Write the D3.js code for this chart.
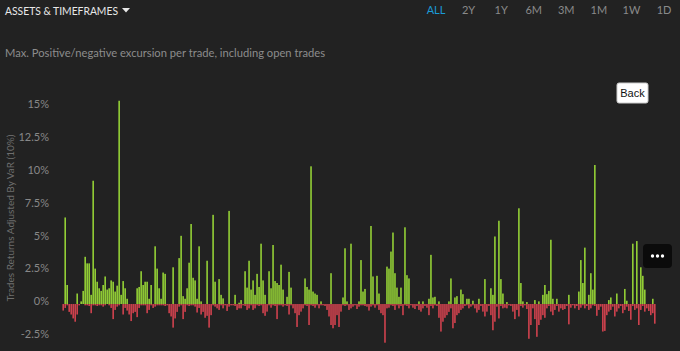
<!DOCTYPE html>
<html>
<head>
<meta charset="utf-8">
<script src="https://cdn.jsdelivr.net/npm/d3@7"></script>
<style>
  html, body { margin: 0; padding: 0; background: #222222; }
  svg { display: block; font-family: Lato, "Open Sans", sans-serif; }
</style>
</head>
<body>
<div id="chart"></div>
<script>
// max positive excursion per trade (%)
const pos = [
  0, 6.6, 1.45, 0, 0, 0, 0, 0.8, 0, 0.2,
  1.0, 3.6, 3.1, 3.1, 0.7, 9.4, 2.7, 1.7, 1.2, 1.0,
  1.45, 2.1, 1.1, 1.2, 1.8, 1.7, 0.95, 1.4, 15.5, 0.7,
  1.75, 1.2, 0.4, 0, 0, 0, 0, 1.2, 1.3, 2.5,
  1.45, 1.7, 1.7, 0.4, 1.45, 0, 4.4, 2.7, 1.2, 0.4,
  2.4, 2.3, 0, 0, 0, 2.8, 0, 0, 3.5, 5.2,
  0.6, 0.4, 1.2, 3.15, 6.1, 2.0, 1.8, 0.4, 4.4, 0.2,
  0, 0, 3.3, 0, 0, 6.8, 1.7, 0, 1.9, 0.7,
  0.43, 0, 0, 7.1, 0, 0, 0.7, 0, 0.1, 0.3,
  0, 2.5, 1.25, 3.3, 1.1, 1.8, 0.7, 2.3, 1.3, 4.6,
  1.8, 0.7, 0, 2.5, 1.2, 4.5, 1.75, 1.6, 1.45, 3.0,
  1.1, 0, 0.55, 2.45, 1.25, 0, 0, 0, 0, 0,
  0, 1.95, 1.3, 1.1, 10.5, 0.95, 0.8, 0.7, 0, 0.2,
  0, 0, 0, 0, 2.35, 0, 0, 0, 0, 0,
  0.5, 4.25, 0.2, 0, 4.6, 0, 0, 0, 0.2, 3.35,
  0.95, 1.15, 0, 0, 5.95, 2.1, 0, 2.15, 0.8, 0,
  0, 0, 2.85, 2.7, 4.0, 5.45, 2.35, 1.25, 0.55, 1.25,
  0, 5.85, 2.2, 1.95, 0, 0, 0, 0, 0.2, 0,
  0.2, 0, 0, 0.4, 3.75, 0.5, 0.55, 0, 0.2, 0,
  0, 0, 0, 0.2, 1.95, 0, 0.5, 0.6, 0, 1.1,
  0.75, 0, 0.4, 0.4, 0, 0.25, 0, 0, 0.4, 0,
  0, 1.9, 0, 0, 1.2, 0.7, 5.15, 0, 6.35, 1.9,
  0.8, 0, 0.15, 0, 0, 0, 0, 0, 7.3, 1.6,
  0.2, 0, 0.15, 0, 0, 0, 0.3, 0, 0.2, 0,
  0.7, 1.45, 0.75, 1.0, 4.9, 0.4, 0, 0.4, 0, 0,
  0, 0, 0, 0.7, 0, 0, 0, 0, 0.95, 3.35,
  1.6, 4.3, 0, 0.7, 2.35, 1.1, 10.6, 0, 0, 0,
  0, 0, 0, 0.3, 0.5, 0, 0, 0.8, 0, 0,
  0, 1.15, 0.25, 0, 0, 4.6, 0, 4.8, 0, 2.8,
  2.15, 1.1, 0, 0, 0, 0.4, 0
];

// max negative excursion per trade (%)
const neg = [
  -0.5, -0.3, -0.1, -0.6, -0.8, -1.1, -1.35, -0.8, -0.1, 0,
  0, -0.1, -0.1, -0.15, -0.7, -0.1, -0.1, -0.15, -0.1, -0.1,
  -0.2, -0.1, 0, -0.1, -0.3, -1.15, -0.45, -0.2, -0.1, 0,
  -0.8, -0.3, -0.5, -0.8, -1.3, -0.7, -0.6, -1.0, -0.3, -0.1,
  -0.1, -0.1, -0.7, -0.45, -0.1, -0.3, -0.2, -0.1, -0.1, -0.1,
  -0.1, -0.15, -0.1, -0.7, -0.95, -1.8, -1.1, -0.6, -0.2, -0.1,
  -1.15, -0.6, -0.1, -0.15, -0.1, -0.1, -0.2, -0.65, -0.3, -0.8,
  -0.6, -1.05, -0.9, -1.8, -0.85, -0.1, -0.2, -0.33, -0.45, -0.1,
  -0.33, -0.1, -0.53, -0.2, -0.1, -0.1, -0.15, -0.45, -0.33, -0.33,
  -0.1, -0.15, -0.45, -0.33, -0.1, -0.45, -0.33, -0.1, -0.15, -0.1,
  -0.7, -0.9, -0.58, -0.1, -0.28, -0.1, -0.15, -1.15, -0.1, -0.1,
  -0.2, -0.1, -0.15, -0.8, -0.1, -0.33, -0.7, -1.75, -0.85, -0.58,
  -0.33, -0.1, -0.15, -1.6, -0.1, -0.15, -0.28, -0.1, -0.33, -0.1,
  -0.1, -0.15, -0.45, -0.95, -1.6, -1.85, -1.6, -0.85, -1.75, -0.58,
  -0.1, -0.15, -0.1, -0.45, -0.33, -0.2, -0.1, -0.38, -0.2, -0.1,
  -0.1, -0.15, -0.2, -0.5, -0.2, -0.1, -0.28, -0.1, -0.45, -0.7,
  -0.85, -2.95, -0.33, -0.28, -0.1, -0.15, -0.45, -0.1, -0.33, -0.15,
  -0.85, -0.1, -0.15, -0.33, -0.1, -0.28, -0.38, -0.15, -0.45, -0.58,
  -0.33, -0.15, -0.28, -0.85, -0.15, -0.33, -0.1, -0.15, -1.05, -2.1,
  -1.35, -1.05, -0.85, -0.6, -0.33, -1.85, -1.45, -0.85, -0.7, -0.45,
  -0.33, -0.15, -0.1, -0.33, -0.2, -0.1, -0.33, -0.65, -0.45, -0.15,
  -0.58, -0.95, -0.58, -0.15, -0.85, -2.0, -1.35, -0.2, -1.1, -0.15,
  -0.33, -0.28, -0.33, -0.1, -0.15, -0.58, -1.15, -0.45, -0.95, -0.15,
  -0.28, -0.1, -0.38, -2.65, -1.6, -0.33, -1.15, -2.5, -1.6, -1.2,
  -0.85, -1.05, -0.33, -0.15, -0.58, -0.85, -0.45, -0.15, -0.58, -0.33,
  -0.45, -0.38, -0.15, -1.55, -0.28, -0.1, -0.33, -0.15, -0.45, -0.28,
  -0.1, -0.33, -0.15, -0.45, -0.33, -0.1, -0.15, -0.9, -0.45, -0.2,
  -2.1, -2.05, -0.85, -0.58, -0.45, -0.2, -0.95, -0.58, -0.33, -0.15,
  -0.7, -0.45, -0.2, -0.53, -1.2, -0.15, -0.45, -0.33, -1.6, -0.45,
  -0.15, -0.58, -0.33, -0.53, -0.85, -0.7, -1.5
];

const trades = pos.map((d, i) => i + 1);
const yTicks = [-2.5, 0, 2.5, 5, 7.5, 10, 12.5, 15];
const timeframes = ['ALL', '2Y', '1Y', '6M', '3M', '1M', '1W', '1D'];

const width = 680, height = 351;

const svg = d3.select('#chart')
  .append('svg')
  .attr('width', width)
  .attr('height', height);

// header
svg.append('text')
  .attr('x', 5)
  .attr('y', 15)
  .attr('fill', '#e8e8e8')
  .attr('textLength', 113)
  .attr('lengthAdjust', 'spacingAndGlyphs')
  .style('font-size', '11.5px')
  .text('ASSETS & TIMEFRAMES');

svg.append('path')
  .attr('d', 'M122,8 L130,8 L126,12.5 Z')
  .attr('fill', '#e8e8e8');

const tf = d3.scalePoint()
  .domain(timeframes)
  .range([436, 664]);

svg.selectAll('.tf')
  .data(timeframes)
  .enter()
  .append('text')
  .attr('class', 'tf')
  .attr('x', d => tf(d))
  .attr('y', 14)
  .attr('text-anchor', 'middle')
  .attr('fill', d => d === 'ALL' ? '#1b9ad6' : '#8a8a8a')
  .style('font-size', '11px')
  .text(d => d);

svg.append('text')
  .attr('x', 5)
  .attr('y', 57)
  .attr('fill', '#8c8c8c')
  .style('font-size', '11.2px')
  .text('Max. Positive/negative excursion per trade, including open trades');

// scales
const x = d3.scaleBand()
  .domain(trades)
  .range([62, 656])
  .padding(0.2);

const y = d3.scaleLinear()
  .domain([-2.5, 15])
  .range([336.8, 107.3]);

// y axis
const yAxis = svg.append('g')
  .attr('transform', 'translate(52,0)')
  .call(d3.axisLeft(y)
    .tickValues(yTicks)
    .tickSize(0)
    .tickPadding(3)
    .tickFormat(d => d + '%'));

yAxis.select('.domain').remove();
yAxis.selectAll('text')
  .attr('fill', '#888888')
  .attr('dy', '0.05em')
  .style('font-size', '11px')
  .style('font-family', 'Lato, sans-serif');

svg.append('text')
  .attr('transform', 'translate(14,218) rotate(-90)')
  .attr('text-anchor', 'middle')
  .attr('fill', '#6e6e6e')
  .style('font-size', '10px')
  .text('Trades Returns Adjusted By VaR (10%)');

// bars
svg.append('g')
  .selectAll('rect')
  .data(trades.filter((d, i) => neg[i] < 0))
  .enter()
  .append('rect')
  .attr('x', d => x(d))
  .attr('y', y(0))
  .attr('width', x.bandwidth())
  .attr('height', d => y(neg[d - 1]) - y(0))
  .attr('fill', '#cf424e');

svg.append('g')
  .selectAll('rect')
  .data(trades.filter((d, i) => pos[i] > 0))
  .enter()
  .append('rect')
  .attr('x', d => x(d))
  .attr('y', d => y(pos[d - 1]))
  .attr('width', x.bandwidth())
  .attr('height', d => y(0) - y(pos[d - 1]))
  .attr('fill', '#93cf36');

// back button
const back = svg.append('g');
back.append('rect')
  .attr('x', 617).attr('y', 83)
  .attr('width', 31).attr('height', 20)
  .attr('rx', 2)
  .attr('fill', '#ffffff')
  .attr('stroke', '#cccccc');
back.append('text')
  .attr('x', 632.5).attr('y', 97)
  .attr('text-anchor', 'middle')
  .attr('fill', '#111')
  .style('font-family', '"Liberation Sans", Arial, sans-serif')
  .style('font-size', '11px')
  .text('Back');

// menu button
const menu = svg.append('g');
menu.append('rect')
  .attr('x', 643).attr('y', 244)
  .attr('width', 29).attr('height', 24)
  .attr('rx', 4)
  .attr('fill', '#0b0b0b');
menu.selectAll('circle')
  .data([-5, 0, 5])
  .enter()
  .append('circle')
  .attr('cx', d => 657.5 + d)
  .attr('cy', 256)
  .attr('r', 1.7)
  .attr('fill', '#ffffff');
</script>
</body>
</html>
